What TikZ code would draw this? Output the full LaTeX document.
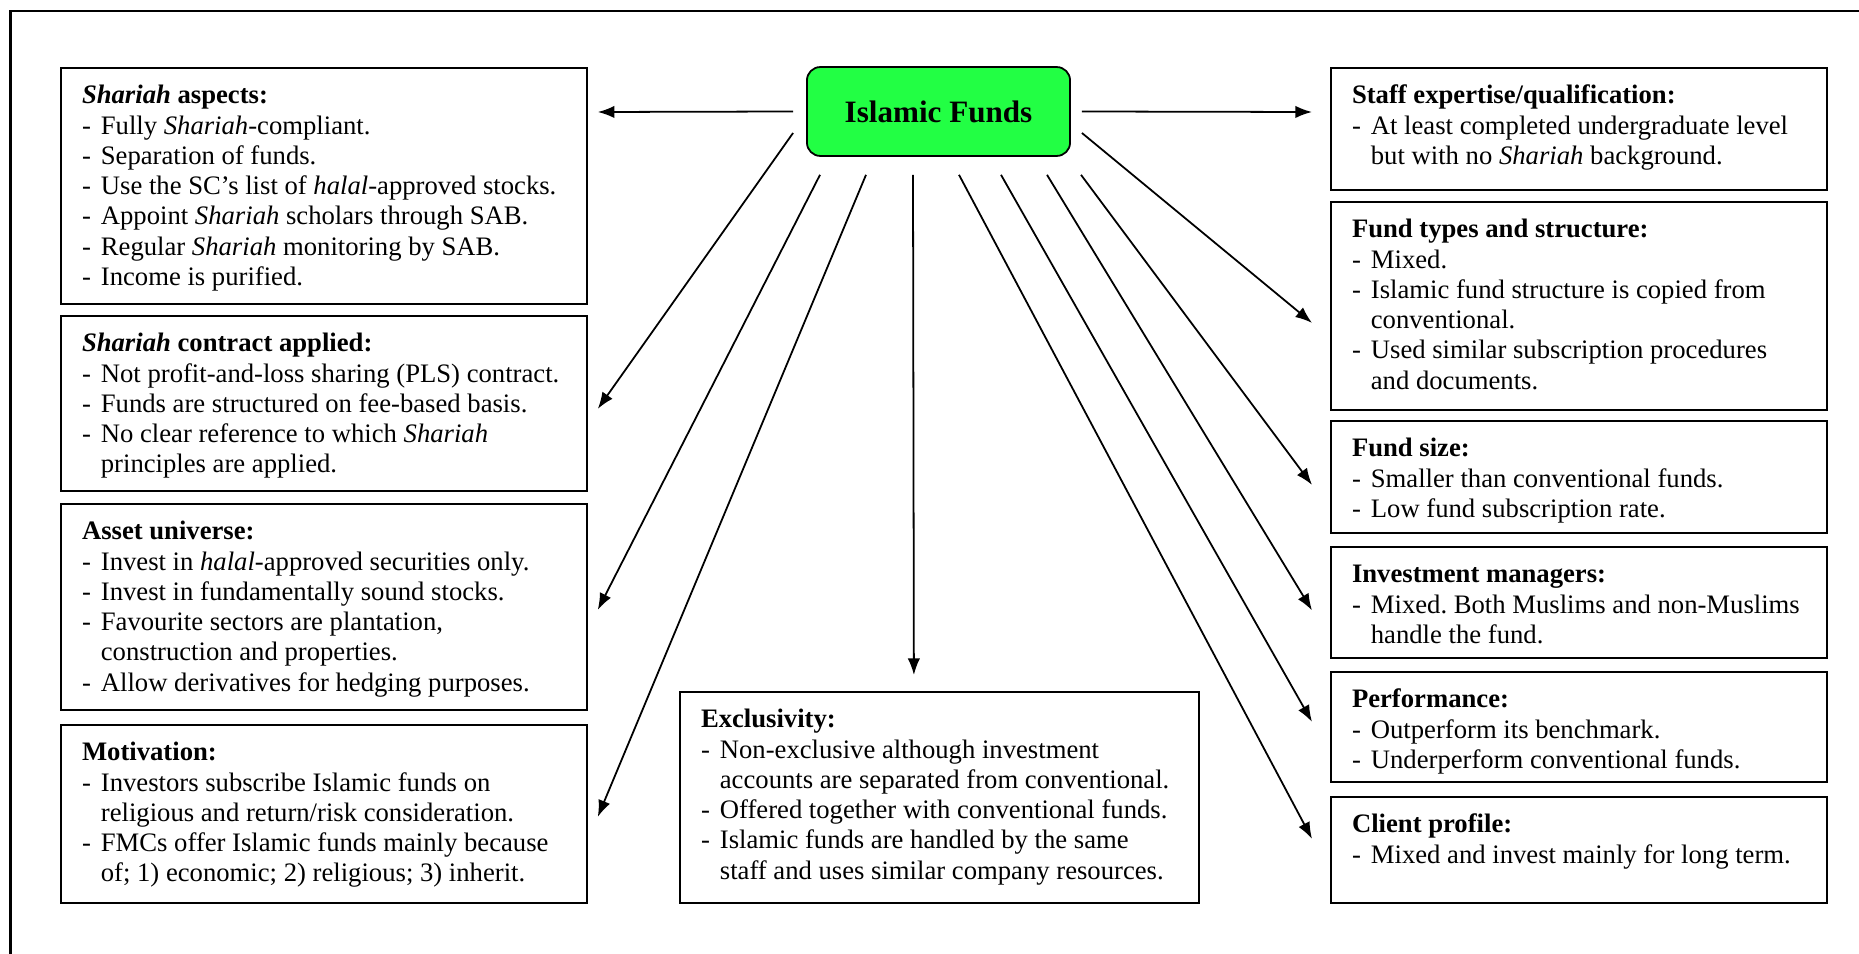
\documentclass[tikz,border=0pt]{standalone}
\usepackage{fontspec}
\setmainfont{Liberation Serif}
\usetikzlibrary{arrows.meta,calc}
\frenchspacing
\newlength{\pxu}\setlength{\pxu}{0.45pt}
\definecolor{fundgreen}{HTML}{22FF44}
\newcommand{\boxtext}[3]{\begin{minipage}[t][#2\pxu][t]{#1\pxu}\raggedright\leftskip=9.5pt\vspace*{6.7pt}\strut#3\end{minipage}}
\newcommand{\ditem}{\par\hangindent=8.5pt\hangafter=1\makebox[8.5pt][l]{-}}
\tikzset{panel/.style={draw,line width=0.8pt,inner sep=0pt,anchor=north west,font=\fontsize{12}{13.6}\selectfont},
  hub/.style={draw,line width=0.8pt,rounded corners=6pt,fill=fundgreen,minimum width=118.4pt,minimum height=40pt,font=\fontsize{14}{16}\selectfont\bfseries},
  link/.style={-{Latex[length=7.5pt,width=5.6pt]},line width=0.8pt}}

\begin{document}
\begin{tikzpicture}[x=0.45pt,y=-0.45pt]
    \useasboundingbox (0,0) rectangle (1859,954);
    \draw[line width=1pt] (1870,11) -- (10.5,11) -- (10.5,970);
    \node[hub] (funds) at (938.5,111.5) {Islamic Funds};
    \node[panel] (aspects) at (60,67) {\boxtext{526}{236}{\textbf{\emph{Shariah} aspects:}
        \ditem Fully \emph{Shariah}-compliant.
        \ditem Separation of funds.
        \ditem Use the SC’s list of \emph{halal}-approved stocks.
        \ditem Appoint \emph{Shariah} scholars through SAB.
        \ditem Regular \emph{Shariah} monitoring by SAB.
        \ditem Income is purified.}};
    \node[panel] (contract) at (60,315) {\boxtext{526}{175}{\textbf{\emph{Shariah} contract applied:}
        \ditem Not profit-and-loss sharing (PLS) contract.
        \ditem Funds are structured on fee-based basis.
        \ditem No clear reference to which \emph{Shariah}\newline principles are applied.}};
    \node[panel] (asset) at (60,503) {\boxtext{526}{206}{\textbf{Asset universe:}
        \ditem Invest in \emph{halal}-approved securities only.
        \ditem Invest in fundamentally sound stocks.
        \ditem Favourite sectors are plantation,\newline construction and properties.
        \ditem Allow derivatives for hedging purposes.}};
    \node[panel] (motive) at (60,724) {\boxtext{526}{178}{\textbf{Motivation:}
        \ditem Investors subscribe Islamic funds on\newline religious and return/risk consideration.
        \ditem FMCs offer Islamic funds mainly because\newline of; 1) economic; 2) religious; 3) inherit.}};
    \node[panel] (exclus) at (679,691) {\boxtext{519}{211}{\textbf{Exclusivity:}
        \ditem Non-exclusive although investment\newline accounts are separated from conventional.
        \ditem Offered together with conventional funds.
        \ditem Islamic funds are handled by the same\newline staff and uses similar company resources.}};
    \node[panel] (staff) at (1330,67) {\boxtext{496}{122}{\textbf{Staff expertise/qualification:}
        \ditem At least completed undergraduate level\newline but with no \emph{Shariah} background.}};
    \node[panel] (types) at (1330,201) {\boxtext{496}{208}{\textbf{Fund types and structure:}
        \ditem Mixed.
        \ditem Islamic fund structure is copied from\newline conventional.
        \ditem Used similar subscription procedures\newline and documents.}};
    \node[panel] (fsize) at (1330,420) {\boxtext{496}{112}{\textbf{Fund size:}
        \ditem Smaller than conventional funds.
        \ditem Low fund subscription rate.}};
    \node[panel] (managers) at (1330,546) {\boxtext{496}{111}{\textbf{Investment managers:}
        \ditem Mixed. Both Muslims and non-Muslims\newline handle the fund.}};
    \node[panel] (perf) at (1330,671) {\boxtext{496}{110}{\textbf{Performance:}
        \ditem Outperform its benchmark.
        \ditem Underperform conventional funds.}};
    \node[panel] (client) at (1330,796) {\boxtext{496}{106}{\textbf{Client profile:}
        \ditem Mixed and invest mainly for long term.}};
    \draw[link] ($(funds.west)+(-13,0)$) -- ($(aspects.north east)+(10,45)$);
    \draw[link] ($(funds.west)+(-13,21.5)$) -- ($(contract.east)+(10,5.5)$);
    \draw[link] ($(funds.south)+(-118.5,18)$) -- ($(asset.east)+(10,3)$);
    \draw[link] ($(funds.south)+(-72.5,18)$) -- ($(motive.east)+(10,3)$);
    \draw[link] ($(funds.south)+(-25.5,18)$) -- ($(exclus.north)+(-25.5,-16)$);
    \draw[link] ($(funds.east)+(11,0)$) -- ($(staff.north west)+(-18,45)$);
    \draw[link] ($(funds.east)+(11,21.5)$) -- ($(types.west)+(-18,17)$);
    \draw[link] ($(funds.south)+(142.5,18)$) -- ($(fsize.west)+(-18,8)$);
    \draw[link] ($(funds.south)+(108.5,18)$) -- ($(managers.west)+(-18,8)$);
    \draw[link] ($(funds.south)+(62.5,18)$) -- ($(perf.west)+(-18,-5)$);
    \draw[link] ($(funds.south)+(20.5,18)$) -- ($(client.west)+(-18,-11)$);
\end{tikzpicture}
\end{document}
